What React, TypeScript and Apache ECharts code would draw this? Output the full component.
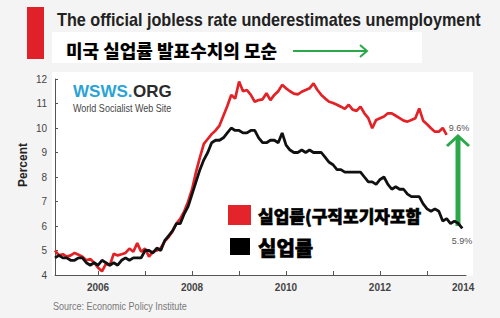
import React, { useEffect, useRef } from "react";
import * as echarts from "echarts";

// Monthly values (first month plotted at the left edge of the axis)
const officialRate = [
  4.7, 4.8, 4.7, 4.7, 4.6, 4.6, 4.7, 4.7, 4.5, 4.4, 4.5, 4.4,
  4.6, 4.5, 4.4, 4.5, 4.4, 4.6, 4.7, 4.6, 4.7, 4.7, 4.7, 5.0,
  5.0, 4.9, 5.1, 5.0, 5.4, 5.6, 5.8, 6.1, 6.1, 6.5, 6.8, 7.3,
  7.8, 8.3, 8.7, 9.0, 9.4, 9.5, 9.5, 9.6, 9.8, 10.0, 9.9, 9.9,
  9.8, 9.8, 9.9, 9.9, 9.6, 9.4, 9.4, 9.5, 9.5, 9.4, 9.8, 9.3,
  9.1, 9.0, 9.0, 9.1, 9.0, 9.1, 9.0, 9.0, 9.0, 8.8, 8.6, 8.5,
  8.3, 8.3, 8.2, 8.2, 8.2, 8.2, 8.2, 8.0, 7.8, 7.8, 7.7, 7.9,
  8.0, 7.7, 7.5, 7.6, 7.5, 7.5, 7.3, 7.2, 7.2, 7.2, 6.9, 6.7,
  6.6, 6.7, 6.6, 6.2, 6.3, 6.1, 6.2, 6.1, 5.9,
];

const adjustedRate = [
  5.0, 4.8, 4.85, 4.75, 4.8, 4.9, 4.83, 4.75, 4.6, 4.65, 4.5, 4.3,
  4.15, 4.45, 4.4, 4.87, 4.8, 4.85, 4.9, 5.08, 4.95, 5.3, 4.95, 5.08,
  4.75, 4.95, 5.0, 5.1, 5.37, 5.55, 5.78, 6.1, 6.3, 6.6, 7.0, 7.5,
  8.2, 8.8, 9.35, 9.55, 9.75, 9.9, 10.1, 10.5, 10.9, 11.35, 11.2, 11.9,
  11.5, 11.55, 11.35, 11.07, 11.14, 11.17, 11.42, 11.14, 11.35, 11.5, 11.76, 11.62,
  11.5, 11.4, 11.37, 11.48, 11.55, 11.62, 11.82, 11.55, 11.35, 11.2, 11.07, 11.02,
  10.95, 10.87, 10.78, 10.95, 10.75, 10.7, 10.87, 10.6, 10.4, 9.99, 10.33, 10.4,
  10.47, 10.6, 10.6, 10.5, 10.4, 10.3, 10.26, 10.33, 10.4, 10.8, 10.3, 10.15,
  9.99, 9.85, 9.85, 10.0, 9.72,
];

const xStart = 2005.085; // axis position of the first month
const xEnd = 2013.83;
const tickYears = [2006, 2007, 2008, 2009, 2010, 2011, 2012, 2013];
const labelYears = [2006, 2008, 2010, 2012, 2013.77];
const yMin = 4;
const yMax = 12;

const title = "The official jobless rate underestimates unemployment";
const koreanTitle = "미국 실업률 발표수치의 모순";
const legendRed = "실업률(구직포기자포함";
const legendBlack = "실업률";
const endRed = "9.6%";
const endBlack = "5.9%";
const source = "Source: Economic Policy Institute";

const toPairs = (vals: number[]) => vals.map((v, i) => [xStart + i / 12, v]);

export default function App() {
  const ref = useRef<HTMLDivElement>(null);
  useEffect(() => {
    if (!ref.current) return;
    const chart = echarts.init(ref.current, undefined, { renderer: "svg" });
    const green = "#2aa84a";
    const cond = "Liberation Sans, Arial, sans-serif";
    chart.setOption({
      animation: false,
      backgroundColor: "#f4f4f4",
      grid: { left: 55, top: 79, right: 34, bottom: 43 },
      xAxis: {
        type: "value",
        min: xStart,
        max: xEnd,
        axisLine: { lineStyle: { color: "#555", width: 1 } },
        axisTick: {
          show: true,
          inside: true,
          length: 4,
          customValues: tickYears,
          lineStyle: { color: "#555" },
        },
        axisLabel: {
          customValues: labelYears,
          formatter: (v: number) => (v > 2013.5 ? "2014" : String(Math.round(v))),
          color: "#444",
          fontSize: 10,
          fontWeight: "bold",
          fontFamily: cond,
          margin: 7,
        },
        splitLine: { show: false },
      },
      yAxis: {
        type: "value",
        min: yMin,
        max: yMax,
        interval: 1,
        axisLine: { show: true, lineStyle: { color: "#555", width: 1 } },
        axisTick: { show: true, inside: true, length: 3, lineStyle: { color: "#555" } },
        axisLabel: { color: "#444", fontSize: 10, fontFamily: cond, margin: 8 },
        splitLine: { show: false },
      },
      series: [
        {
          type: "line",
          data: toPairs(adjustedRate),
          showSymbol: false,
          lineStyle: { color: "#e32227", width: 2.7 },
          z: 3,
        },
        {
          type: "line",
          data: toPairs(officialRate),
          showSymbol: false,
          lineStyle: { color: "#111", width: 2.8 },
          z: 4,
        },
      ],
      graphic: [
        { type: "rect", z: -10, shape: { x: 52, y: 72, width: 421, height: 204 }, style: { fill: "#fff" } },
        { type: "rect", shape: { x: 27, y: 7, width: 17, height: 52 }, style: { fill: "#e02129" } },
        {
          type: "text",
          x: 57,
          y: 20,
          scaleX: 0.9,
          style: {
            text: title,
            fontSize: 18,
            fontWeight: "bold",
            fontFamily: cond,
            fill: "#222",
            verticalAlign: "middle",
          },
        },
        { type: "rect", shape: { x: 52, y: 32, width: 370, height: 31 }, style: { fill: "#fff" } },
        {
          type: "text",
          x: 66,
          y: 50,
          style: {
            text: koreanTitle,
            fontSize: 18,
            fontWeight: 900,
            fontFamily: "Noto Sans CJK KR",
            fill: "#000",
            verticalAlign: "middle",
          },
        },
        { type: "line", shape: { x1: 293, y1: 51, x2: 366, y2: 51 }, style: { stroke: green, lineWidth: 2 } },
        {
          type: "polyline",
          shape: { points: [[360, 45], [367, 51], [360, 57]] },
          style: { stroke: green, lineWidth: 2, fill: "none" },
        },
        {
          type: "text",
          x: 73,
          y: 91,
          style: { text: "WSWS.", fontSize: 17, fontWeight: "bold", fontFamily: cond, fill: "#2aa3d6", verticalAlign: "middle" },
        },
        {
          type: "text",
          x: 133,
          y: 91,
          style: { text: "ORG", fontSize: 17, fontWeight: "bold", fontFamily: cond, fill: "#2b2b2b", verticalAlign: "middle" },
        },
        {
          type: "text",
          x: 73,
          y: 108,
          scaleX: 0.82,
          style: { text: "World Socialist Web Site", fontSize: 11, fontFamily: cond, fill: "#444", verticalAlign: "middle" },
        },
        {
          type: "text",
          x: 23,
          y: 165,
          rotation: Math.PI / 2,
          style: {
            text: "Percent",
            fontSize: 12,
            fontWeight: "bold",
            fontFamily: cond,
            fill: "#222",
            align: "center",
            verticalAlign: "middle",
          },
        },
        { type: "rect", shape: { x: 228, y: 205, width: 23, height: 20 }, style: { fill: "#e4242b" } },
        { type: "rect", shape: { x: 230, y: 238, width: 20, height: 17 }, style: { fill: "#000" } },
        {
          type: "text",
          x: 258,
          y: 215,
          style: {
            text: legendRed,
            fontSize: 17,
            fontWeight: 900,
            fontFamily: "Noto Sans CJK KR",
            fill: "#000",
            stroke: "#000",
            lineWidth: 0.6,
            verticalAlign: "middle",
          },
        },
        {
          type: "text",
          x: 258,
          y: 247,
          style: {
            text: legendBlack,
            fontSize: 20,
            fontWeight: 900,
            fontFamily: "Noto Sans CJK KR",
            fill: "#000",
            stroke: "#000",
            lineWidth: 0.6,
            verticalAlign: "middle",
          },
        },
        {
          type: "text",
          x: 459,
          y: 128,
          style: { text: endRed, fontSize: 9, fontFamily: cond, fill: "#555", align: "center", verticalAlign: "middle" },
        },
        {
          type: "text",
          x: 462,
          y: 241,
          style: { text: endBlack, fontSize: 9, fontFamily: cond, fill: "#555", align: "center", verticalAlign: "middle" },
        },
        { type: "line", shape: { x1: 458, y1: 226, x2: 458, y2: 137 }, style: { stroke: green, lineWidth: 5 } },
        {
          type: "polyline",
          shape: { points: [[447, 146], [458, 136], [469, 146]] },
          style: { stroke: green, lineWidth: 3, fill: "none" },
        },
        {
          type: "text",
          x: 53,
          y: 306,
          scaleX: 0.82,
          style: { text: source, fontSize: 11, fontFamily: cond, fill: "#777", verticalAlign: "middle" },
        },
      ],
    });
    return () => chart.dispose();
  }, []);
  return (
    <div
      ref={ref}
      style={{ position: "fixed", left: 0, top: 0, width: 500, height: 318 }}
    />
  );
}
